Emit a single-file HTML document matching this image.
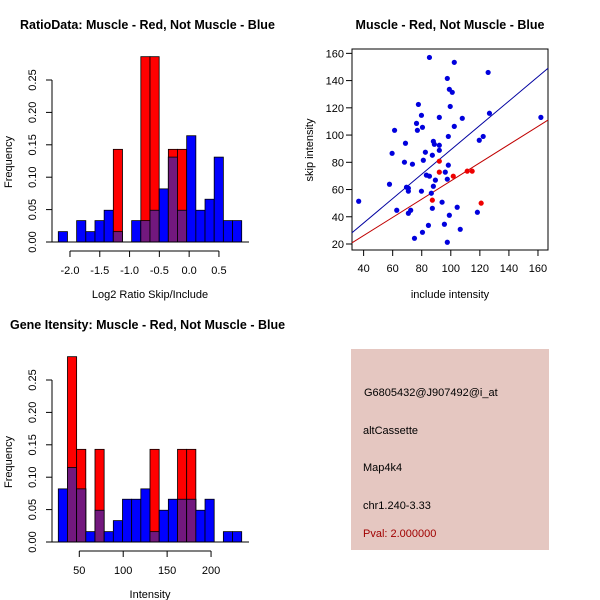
<!DOCTYPE html>
<html><head><meta charset="utf-8"><style>
html,body{margin:0;padding:0;background:#fff;}
svg{display:block;font-family:"Liberation Sans",sans-serif;}
</style></head><body>
<svg id="c" width="600" height="600" xmlns="http://www.w3.org/2000/svg">
<rect x="0" y="0" width="600" height="600" fill="#fff"/>
<text x="20" y="29" font-size="12.5" font-weight="bold">RatioData: Muscle - Red, Not Muscle - Blue</text>
<text x="450" y="29" font-size="12.5" font-weight="bold" text-anchor="middle">Muscle - Red, Not Muscle - Blue</text>
<text x="10" y="329" font-size="12.5" font-weight="bold">Gene Itensity: Muscle - Red, Not Muscle - Blue</text>
<text x="150" y="298" font-size="11" text-anchor="middle">Log2 Ratio Skip/Include</text>
<text x="150" y="598" font-size="11" text-anchor="middle">Intensity</text>
<text x="450" y="298" font-size="11" text-anchor="middle">include intensity</text>
<text transform="translate(12,162) rotate(-90)" font-size="11" text-anchor="middle">Frequency</text>
<text transform="translate(12,462) rotate(-90)" font-size="11" text-anchor="middle">Frequency</text>
<text transform="translate(313,150) rotate(-90)" font-size="11" text-anchor="middle">skip intensity</text>
<g>
<rect x="351" y="349" width="198" height="201" fill="#e5c7c1"/>
<text x="364" y="396" font-size="11">G6805432@J907492@i_at</text>
<text x="363" y="434" font-size="11">altCassette</text>
<text x="363" y="471" font-size="11">Map4k4</text>
<text x="363" y="509" font-size="11">chr1.240-3.33</text>
<text x="363" y="537" font-size="11" fill="#a00000">Pval: 2.000000</text>
</g>
<g id="g1"></g><g id="g2"></g><g id="g3"></g>
</svg>
<script>
// Ratio histogram data
const ratioBinStart = -2.196;
const ratioBinWidth = 0.1539;
const ratioBlue = [0.016,0,0.033,0.016,0.033,0.049,0.016,0,0.033,0.033,0.049,0.082,0.131,0.049,0.164,0.049,0.066,0.131,0.033,0.033];
const ratioRed  = [0,0,0,0,0,0,0.143,0,0,0.286,0.286,0,0.143,0.143,0,0,0,0,0,0];
const ratioXTicks = [-2.0,-1.5,-1.0,-0.5,0.0,0.5];
const ratioXLabels = ["-2.0","-1.5","-1.0","-0.5","0.0","0.5"];
const freqTicks = [0,0.05,0.10,0.15,0.20,0.25];
const freqLabels = ["0.00","0.05","0.10","0.15","0.20","0.25"];
// Intensity histogram data
const intBinStart = 26.1;
const intBinWidth = 10.44;
const intBlue = [0.082,0.115,0.082,0.016,0.049,0.016,0.033,0.066,0.066,0.082,0.016,0.049,0.066,0.066,0.066,0.049,0.066,0,0.016,0.016];
const intRed  = [0,0.286,0.143,0,0.143,0,0,0,0,0,0.143,0,0,0.143,0.143,0,0,0,0,0];
const intXTicks = [50,100,150,200];
// Scatter data
const blueX = [85.3,102.4,125.7,97.6,99,101,99.6,77.7,79.8,61.3,76.4,77,80.5,92.1,107.9,102.4,126.6,162,122.3,119.6,98.3,68.8,88,88.7,92.1,92.1,59.6,82.5,87.3,81.1,68.1,73.6,98.3,96.2,83.2,85.3,89.4,97.6,57.8,69.5,70.8,88,70.8,79.8,86.6,36.6,94,62.8,72.4,70.8,104.4,87.3,118.3,99,84.6,95.6,106.5,80.5,75,97.6];
const blueY = [157,153.4,146,141.6,133.6,131.4,121,122.5,114.5,103.5,108.6,103.5,105.7,113,112.3,106.4,116,113,99,96.2,99,94,95.4,93.2,92.5,88.8,86.6,87.4,85.2,81.5,80.1,78.6,77.9,72.8,70.6,69.8,66.9,67.6,63.9,61.7,61,62.4,58.8,58.8,57.3,51.4,50.7,44.8,44.8,42.6,47,46.2,43.3,41.1,33.7,34.5,30.8,28.6,24.2,21.3];
const redX = [92.1,92.1,101.7,111.3,114.7,87.3,120.9];
const redY = [80.8,72.8,69.8,73.5,73.5,52.2,50];
const fitIntercept = [-0.34,-0.5];
const fitSlope = [0.895,0.668];
const scXTicks = [40,60,80,100,120,140,160];
const scYTicks = [20,40,60,80,100,120,140,160];

const NS="http://www.w3.org/2000/svg";
function mk(parent,tag,attrs){const e=document.createElementNS(NS,tag);for(const k in attrs)e.setAttribute(k,attrs[k]);parent.appendChild(e);return e;}

function hist(g,y0px,binStart,binW,blue,red,xTicks,xLabels,xAxisMin,xAxisMax,prefix){
  const sx = v => 58.3 + (v-binStart)/binW*9.17;
  const sy = f => y0px - f*648;
  for(let i=0;i<blue.length;i++){
    const x0=sx(binStart+i*binW), x1=sx(binStart+(i+1)*binW);
    if(blue[i]>0){
      const r=mk(g,'rect',{x:x0,y:sy(blue[i]),width:x1-x0,height:y0px-sy(blue[i]),fill:'#0000ff',stroke:'#000','stroke-width':0.8});
      
      
    }
    if(red[i]>0){
      const r=mk(g,'rect',{x:x0,y:sy(red[i]),width:x1-x0,height:y0px-sy(red[i]),fill:'#ff0000',stroke:'#000','stroke-width':0.8});
      
      
      const m=Math.min(red[i],blue[i]);
      if(m>0){
        const p=mk(g,'rect',{x:x0,y:sy(m),width:x1-x0,height:y0px-sy(m),fill:'#72187e',stroke:'#000','stroke-width':0.8});
        
        
      }
    }
  }
  const ya=mk(g,'line',{x1:52,x2:52,y1:sy(0),y2:sy(0.25),stroke:'#000'});
  
  
  freqTicks.forEach((t,i)=>{
    mk(g,'line',{x1:46,x2:52,y1:sy(t),y2:sy(t),stroke:'#000'});
    const tx=mk(g,'text',{transform:`translate(36,${sy(t)}) rotate(-90)`,'font-size':11,'text-anchor':'middle'});
    tx.textContent=freqLabels[i];
    
    
  });
  mk(g,'line',{x1:50,x2:249,y1:y0px,y2:y0px,stroke:'#000'});
  const ay=y0px+9;
  const xa=mk(g,'line',{x1:sx(xAxisMin),x2:sx(xAxisMax),y1:ay,y2:ay,stroke:'#000'});
  
  
  xTicks.forEach((t,i)=>{
    mk(g,'line',{x1:sx(t),x2:sx(t),y1:ay,y2:ay+6,stroke:'#000'});
    const tx=mk(g,'text',{x:sx(t),y:ay+23,'font-size':11,'text-anchor':'middle'});
    tx.textContent=xLabels[i];
    
    
  });
}
hist(document.getElementById('g1'),242,ratioBinStart,ratioBinWidth,ratioBlue,ratioRed,ratioXTicks,ratioXLabels,-2.0,0.5,'ratio');
hist(document.getElementById('g2'),542,intBinStart,intBinWidth,intBlue,intRed,intXTicks,intXTicks.map(String),50,200,'intensity');

(function(){
  const g=document.getElementById('g3');
  const X0=32,X1=166.9,Y0=15.6,Y1=163.2;
  const L=352,R=548,T=49,B=250;
  const sx=v=>L+(v-X0)/(X1-X0)*(R-L);
  const sy=v=>B-(v-Y0)/(Y1-Y0)*(B-T);
  const box=mk(g,'rect',{x:L,y:T,width:R-L,height:B-T,fill:'none',stroke:'#000'});
  
  
  scXTicks.forEach(t=>{
    mk(g,'line',{x1:sx(t),x2:sx(t),y1:B,y2:B+6,stroke:'#000'});
    const tx=mk(g,'text',{x:sx(t),y:B+22,'font-size':11,'text-anchor':'middle'});
    tx.textContent=t;
    
    
  });
  scYTicks.forEach(t=>{
    mk(g,'line',{x1:L-6,x2:L,y1:sy(t),y2:sy(t),stroke:'#000'});
    const tx=mk(g,'text',{x:L-8,y:sy(t)+4,'font-size':11,'text-anchor':'end'});
    tx.textContent=t;
    
    
  });
  const cols=['#0000a0','#c00000'];
  fitIntercept.forEach((a,i)=>{
    const b=fitSlope[i];
    const ln=mk(g,'line',{x1:sx(X0),y1:sy(a+b*X0),x2:sx(X1),y2:sy(a+b*X1),stroke:cols[i],'stroke-width':1});
    
    
  });
  blueX.forEach((x,i)=>{
    const c=mk(g,'circle',{cx:sx(x),cy:sy(blueY[i]),r:2.6,fill:'#0000dd'});
    
    
  });
  redX.forEach((x,i)=>{
    const c=mk(g,'circle',{cx:sx(x),cy:sy(redY[i]),r:2.6,fill:'#ee0000'});
    
    
  });
})();
</script>
</body></html>
